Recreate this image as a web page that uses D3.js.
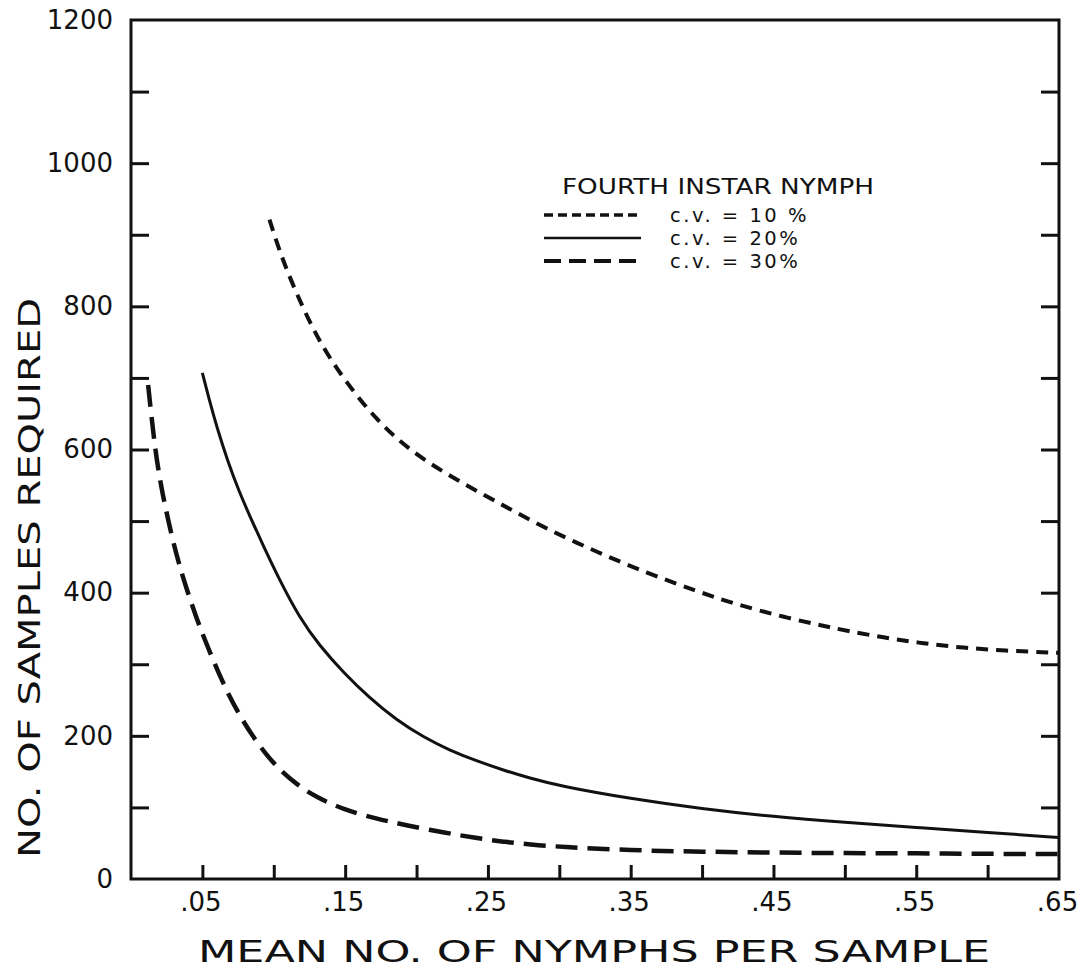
<!DOCTYPE html>
<html><head><meta charset="utf-8">
<script src="https://cdn.jsdelivr.net/npm/d3@7"></script>
<style>
html,body{margin:0;padding:0;background:#fff;}
svg text{font-family:"DejaVu Sans","Liberation Sans",sans-serif;fill:#111;}
</style></head>
<body><svg id="c" width="1091" height="979"></svg>
<script>
// ---- data ----
const xDomain = [0, 0.65];
const yDomain = [0, 1200];
const xMinorTicks = [0.05,0.10,0.15,0.20,0.25,0.30,0.35,0.40,0.45,0.50,0.55,0.60];
const xTickLabels = [0.05,0.15,0.25,0.35,0.45,0.55,0.65];
const yMinorTicks = [100,200,300,400,500,600,700,800,900,1000,1100];
const yTickLabels = [0,200,400,600,800,1000,1200];
const legendTitle = "FOURTH INSTAR NYMPH";
const seriesNames = ["c.v. = 10 %","c.v. = 20%","c.v. = 30%"];
const xTitle = "MEAN NO. OF NYMPHS PER SAMPLE";
const yTitle = "NO. OF SAMPLES REQUIRED";

const cv10 = [[0.097,921],[0.106,865],[0.120,799],[0.134,743],[0.151,693],[0.172,641],[0.195,599],[0.223,563],[0.256,527],[0.290,490],[0.326,457],[0.362,427],[0.395,403],[0.423,384],[0.459,365],[0.495,349],[0.528,337],[0.555,329],[0.583,323],[0.611,319],[0.650,316]];
const cv20 = [[0.050,707],[0.055,668],[0.060,632],[0.068,582],[0.076,540],[0.083,508],[0.093,464],[0.104,418],[0.118,365],[0.132,326],[0.149,288],[0.167,253],[0.186,222],[0.205,198],[0.223,180],[0.242,165],[0.261,152],[0.279,141],[0.30,130],[0.35,112],[0.40,98],[0.45,87],[0.50,79],[0.55,72],[0.60,65],[0.65,58]];
const cv30 = [[0.012,690],[0.014,652],[0.016,617],[0.018,586],[0.021,550],[0.024,520],[0.028,484],[0.032,452],[0.036,424],[0.041,393],[0.046,364],[0.050,343],[0.055,318],[0.062,285],[0.069,255],[0.076,229],[0.085,200],[0.095,173],[0.104,153],[0.116,132],[0.130,114],[0.149,97],[0.172,84],[0.193,75],[0.219,65],[0.242,57],[0.261,52],[0.28,48],[0.30,45],[0.35,40],[0.40,38],[0.45,37],[0.50,36],[0.55,36],[0.60,35],[0.65,35]];

// ---- drawing ----
const svg = d3.select("#c");
const L = 131, R = 1059, T = 20, B = 879;
const x = d3.scaleLinear().domain(xDomain).range([L, R]);
const y = d3.scaleLinear().domain(yDomain).range([B, T]);
const ink = "#111";

function styleAxis(g){
  g.select(".domain").remove();
  g.selectAll(".tick line").attr("stroke", ink).attr("stroke-width", 3);
}

// minor tick marks (inward)
svg.append("g").attr("transform",`translate(${L},0)`)
  .call(d3.axisLeft(y).tickValues(yMinorTicks).tickSize(-18).tickFormat(""))
  .call(styleAxis);
svg.append("g").attr("transform",`translate(${R},0)`)
  .call(d3.axisRight(y).tickValues(yMinorTicks).tickSize(-18).tickFormat(""))
  .call(styleAxis);
svg.append("g").attr("transform",`translate(0,${B})`)
  .call(d3.axisBottom(x).tickValues(xMinorTicks).tickSize(-14).tickFormat(""))
  .call(styleAxis);

// tick labels
const yl = svg.append("g").attr("transform",`translate(${L},0)`)
  .call(d3.axisLeft(y).tickValues(yTickLabels).tickSize(0).tickPadding(18).tickFormat(d3.format("d")));
yl.select(".domain").remove();
yl.selectAll("text").style("font-size","26px").attr("fill",ink);

const xl = svg.append("g").attr("transform",`translate(0,${B})`)
  .call(d3.axisBottom(x).tickValues(xTickLabels).tickSize(0).tickPadding(14)
    .tickFormat(d => "." + d3.format("02d")(Math.round(d*100))));
xl.select(".domain").remove();
xl.selectAll("text").style("font-size","26px").attr("fill",ink).attr("dx","-2");

// frame
svg.append("rect").attr("x",L).attr("y",T).attr("width",R-L).attr("height",B-T)
  .attr("fill","none").attr("stroke",ink).attr("stroke-width",3);

// curves
const line = d3.line().x(d=>x(d[0])).y(d=>y(d[1])).curve(d3.curveBasis);
const styles = [
  {data:cv10, w:4, dash:"12,8", ldash:"9,5"},
  {data:cv20, w:3, dash:null, ldash:null},
  {data:cv30, w:4.5, dash:"22,10", ldash:"17,8"}
];
styles.forEach(s=>{
  svg.append("path").datum(s.data).attr("d",line)
    .attr("fill","none").attr("stroke",ink).attr("stroke-width",s.w)
    .attr("stroke-dasharray",s.dash);
});

// legend
svg.append("text").attr("x",562).attr("y",194).text(legendTitle)
  .style("font-size","21px").attr("textLength",312).attr("lengthAdjust","spacingAndGlyphs");
const rowY = [215, 238, 261];
styles.forEach((s,i)=>{
  svg.append("line").attr("x1",544).attr("x2",641).attr("y1",rowY[i]).attr("y2",rowY[i])
    .attr("stroke",ink).attr("stroke-width",s.w-0.5).attr("stroke-dasharray",s.ldash);
  svg.append("text").attr("x",670).attr("y",rowY[i]+7).text(seriesNames[i])
    .style("font-size","19.5px").style("letter-spacing","2.5px");
});

// axis titles
svg.append("text").attr("x",594).attr("y",962).attr("text-anchor","middle").text(xTitle)
  .style("font-size","31px").attr("textLength",792).attr("lengthAdjust","spacingAndGlyphs");
svg.append("text").attr("transform","translate(40,578) rotate(-90)").attr("text-anchor","middle").text(yTitle)
  .style("font-size","31px").attr("textLength",560).attr("lengthAdjust","spacingAndGlyphs");
</script></body></html>
